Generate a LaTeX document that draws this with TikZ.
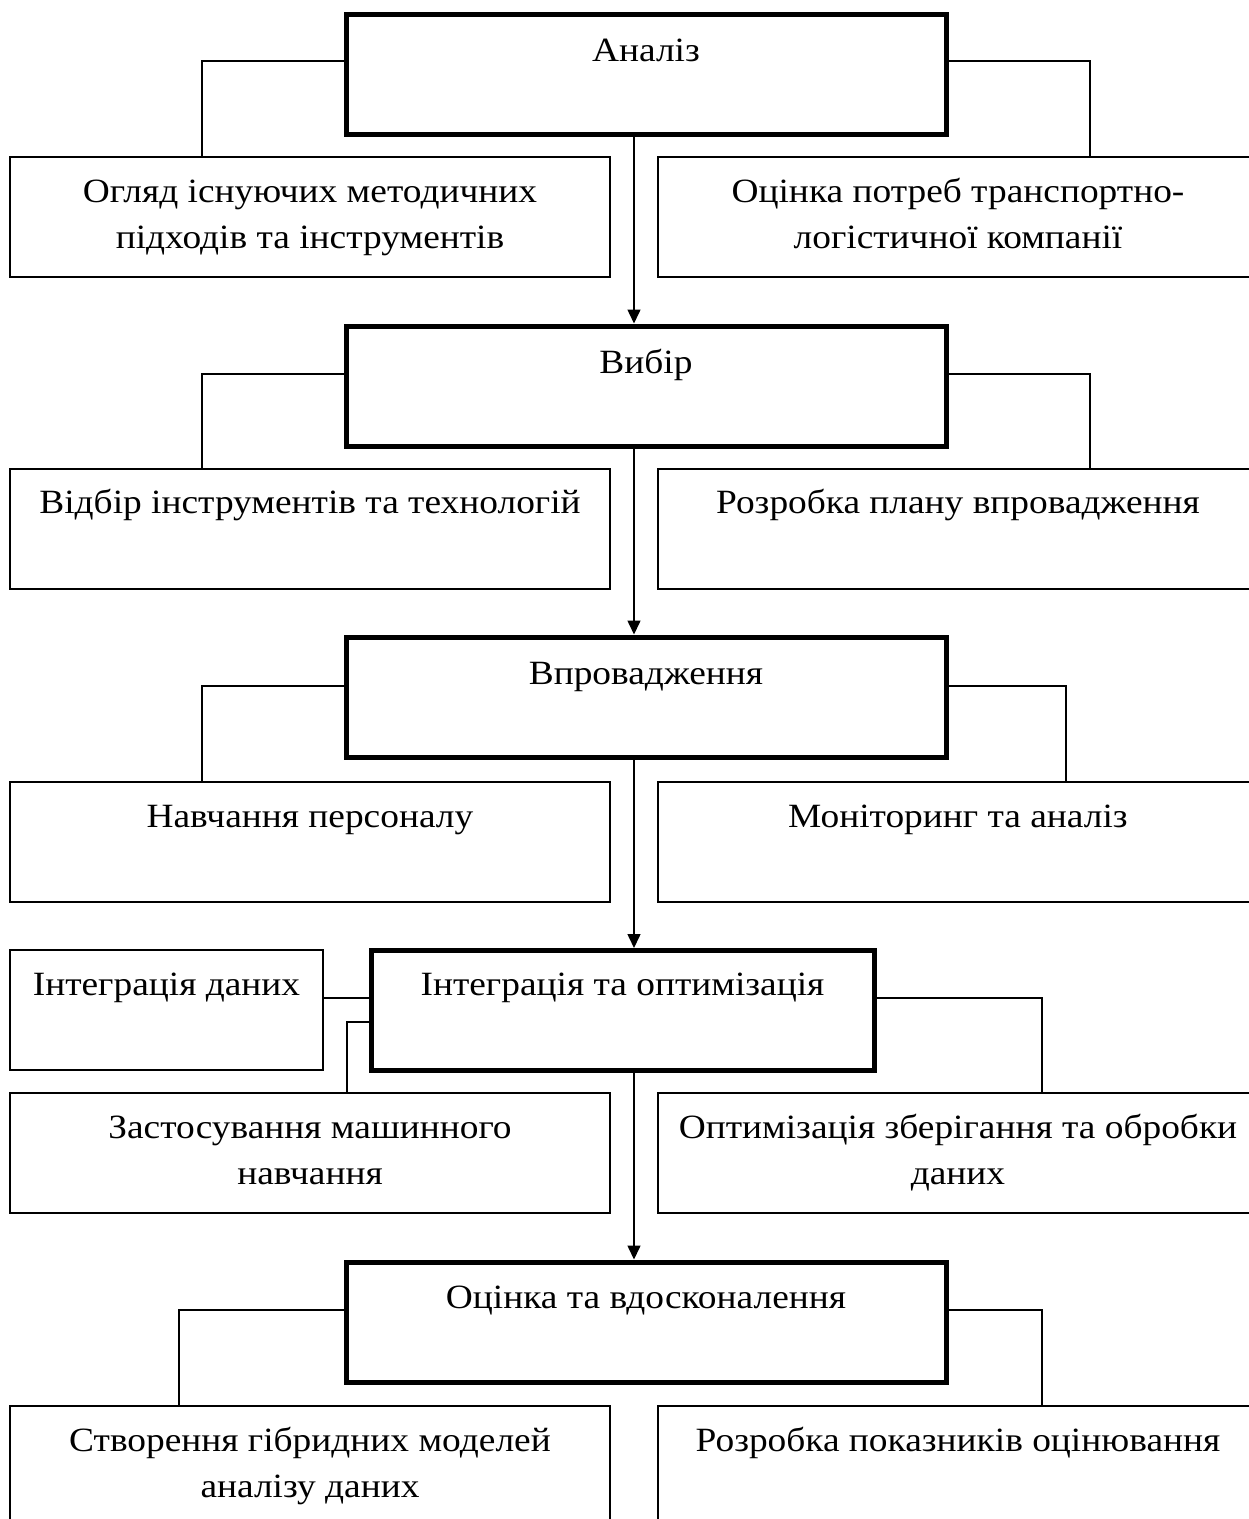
\documentclass[tikz,border=0pt]{standalone}
\usepackage{fontspec}
\setmainfont[FakeStretch=1.1]{Liberation Serif}
\usetikzlibrary{arrows.meta}
\begin{document}
\begin{tikzpicture}[x=1pt,y=-1pt,
  stagebox/.style={draw=black,line width=5pt,rectangle,minimum width=600pt,minimum height=120pt,inner sep=0pt,outer sep=0pt},
  taskbox/.style={draw=black,line width=1.6pt,rectangle,minimum width=600pt,minimum height=120pt,inner sep=0pt,outer sep=0pt},
  caption/.style={anchor=base,inner sep=0pt,align=center,font=\fontsize{34}{46}\selectfont},
  link/.style={draw=black,line width=1.5pt},
  flow/.style={draw=black,line width=1.5pt,-{Triangle[length=14pt,width=13pt]}}]
\useasboundingbox (0,0) rectangle (1249,1519);
\clip (0,0) rectangle (1249,1519);
\fill[white] (0,0) rectangle (1249,1519);

% stages
\node[stagebox] (A) at (646,74) {};
\node[stagebox] (B) at (646,386) {};
\node[stagebox] (C) at (646,697) {};
\node[stagebox,minimum width=503pt] (D) at (622.5,1010.5) {};
\node[stagebox] (E) at (646,1322) {};

% tasks
\node[taskbox] (A1) at (310,217) {};
\node[taskbox] (A2) at (958,217) {};
\node[taskbox] (B1) at (310,529) {};
\node[taskbox] (B2) at (958,529) {};
\node[taskbox] (C1) at (310,842) {};
\node[taskbox] (C2) at (958,842) {};
\node[taskbox,minimum width=313pt] (D0) at (166.5,1010) {};
\node[taskbox] (D1) at (310,1153) {};
\node[taskbox] (D2) at (958,1153) {};
\node[taskbox] (E1) at (310,1466) {};
\node[taskbox] (E2) at (958,1466) {};

% captions (base anchor sits on the last line)
\node[caption] (At) at ([yshift=-47pt]A.north) {Аналіз};
\node[caption] (Bt) at ([yshift=-47pt]B.north) {Вибір};
\node[caption] (Ct) at ([yshift=-47pt]C.north) {Впровадження};
\node[caption] (Dt) at ([yshift=-45pt]D.north) {Інтеграція та оптимізація};
\node[caption] (Et) at ([yshift=-46pt]E.north) {Оцінка та вдосконалення};

\node[caption] (A1t) at ([yshift=-91pt]A1.north) {Огляд існуючих методичних\\підходів та інструментів};
\node[caption] (A2t) at ([yshift=-91pt]A2.north) {Оцінка потреб транспортно-\\логістичної компанії};
\node[caption] (B1t) at ([yshift=-44pt]B1.north) {Відбір інструментів та технологій};
\node[caption] (B2t) at ([yshift=-44pt]B2.north) {Розробка плану впровадження};
\node[caption] (C1t) at ([yshift=-45pt]C1.north) {Навчання персоналу};
\node[caption] (C2t) at ([yshift=-45pt]C2.north) {Моніторинг та аналіз};
\node[caption] (D0t) at ([yshift=-45pt]D0.north) {Інтеграція даних};
\node[caption] (D1t) at ([yshift=-91pt]D1.north) {Застосування машинного\\навчання};
\node[caption] (D2t) at ([yshift=-91pt]D2.north) {Оптимізація зберігання та обробки\\даних};
\node[caption] (E1t) at ([yshift=-91pt]E1.north) {Створення гібридних моделей\\аналізу даних};
\node[caption] (E2t) at ([yshift=-45pt]E2.north) {Розробка показників оцінювання};

% main sequence
\coordinate (spine) at (634,0);
\draw[flow] (A.south -| spine) -- ([yshift=2.5pt]B.north -| spine);
\draw[flow] (B.south -| spine) -- ([yshift=2.5pt]C.north -| spine);
\draw[flow] (C.south -| spine) -- ([yshift=2.5pt]D.north -| spine);
\draw[flow] (D.south -| spine) -- ([yshift=2.5pt]E.north -| spine);

% branches
\draw[link] ([yshift=13pt]A.west) -| ([xshift=-108pt]A1.north);
\draw[link] ([yshift=13pt]A.east) -| ([xshift=132pt]A2.north);
\draw[link] ([yshift=12pt]B.west) -| ([xshift=-108pt]B1.north);
\draw[link] ([yshift=12pt]B.east) -| ([xshift=132pt]B2.north);
\draw[link] ([yshift=11pt]C.west) -| ([xshift=-108pt]C1.north);
\draw[link] ([yshift=11pt]C.east) -| ([xshift=108pt]C2.north);
\draw[link] ([yshift=12.5pt]D.west) -- ([yshift=12.5pt]D.west -| D0.east);
\draw[link] ([yshift=-11.5pt]D.west) -| ([xshift=37pt]D1.north);
\draw[link] ([yshift=12.5pt]D.east) -| ([xshift=84pt]D2.north);
\draw[link] ([yshift=12pt]E.west) -| ([xshift=-131pt]E1.north);
\draw[link] ([yshift=12pt]E.east) -| ([xshift=84pt]E2.north);
\end{tikzpicture}
\end{document}
